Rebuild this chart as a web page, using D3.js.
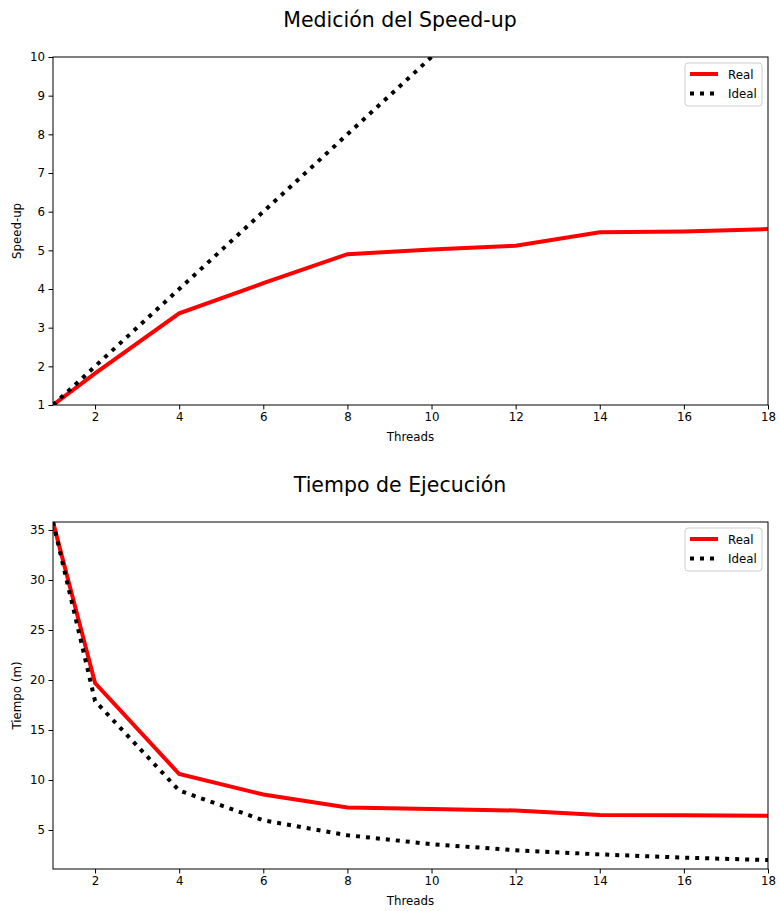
<!DOCTYPE html>
<html><head><meta charset="utf-8">
<script src="https://cdn.jsdelivr.net/npm/d3@7"></script>
<style>
body{margin:0;background:#fff;}
text{font-family:"DejaVu Sans",sans-serif;}
</style></head>
<body><svg id="c" width="780" height="911"></svg>
<script>
const threads = [1, 2, 4, 6, 8, 10, 12, 14, 16, 18];
const tiempoReal = [35.8, 19.7, 10.6, 8.55, 7.25, 7.1, 6.95, 6.5, 6.47, 6.42];
const tiempoIdeal = [35.8, 17.9, 8.95, 5.97, 4.48, 3.58, 2.98, 2.56, 2.24, 1.99];
const speedupReal = [1, 1.82, 3.37, 4.15, 4.9, 5.02, 5.12, 5.47, 5.49, 5.55];
const speedupIdeal = [1, 2, 4, 6, 8, 10, 12, 14, 16, 18];
const xTicks = [2, 4, 6, 8, 10, 12, 14, 16, 18];
const speedTicks = [1, 2, 3, 4, 5, 6, 7, 8, 9, 10];
const timeTicks = [5, 10, 15, 20, 25, 30, 35];
const seriesNames = ["Real", "Ideal"];

const svg = d3.select("#c");
svg.append("defs");

function panel(cfg){
  const {top, bottom, left, right, ydom, yticks, title, ylabel, real, ideal, id} = cfg;
  const x = d3.scaleLinear().domain([1,18]).range([left,right]);
  const y = d3.scaleLinear().domain(ydom).range([bottom,top]);
  const g = svg.append("g");
  const cp = svg.select("defs").append("clipPath").attr("id","cp"+id);
  cp.append("rect").attr("x",left).attr("y",top).attr("width",right-left).attr("height",bottom-top);
  const line = d3.line().x((d,i)=>x(threads[i])).y(d=>y(d));
  const lg = g.append("g").attr("clip-path","url(#cp"+id+")");
  lg.append("path").datum(real).attr("d",line).attr("fill","none")
    .attr("stroke","#ff0000").attr("stroke-width",4);
  lg.append("path").datum(ideal).attr("d",line).attr("fill","none")
    .attr("stroke","#000").attr("stroke-width",4).attr("stroke-dasharray","4,6");
  const xa = g.append("g").attr("transform",`translate(0,${bottom})`)
    .call(d3.axisBottom(x).tickValues(xTicks).tickSize(4.5).tickPadding(3.5).tickFormat(d3.format("d")));
  const ya = g.append("g").attr("transform",`translate(${left},0)`)
    .call(d3.axisLeft(y).tickValues(yticks).tickSize(4.5).tickPadding(3.5).tickFormat(d3.format("d")));
  [xa,ya].forEach(a=>{a.select(".domain").remove();
    a.selectAll("text").attr("font-size",11.8).attr("fill","#000").attr("font-family","DejaVu Sans");
    a.selectAll("line").attr("stroke","#000").attr("stroke-width",1);});
  g.append("rect").attr("x",left).attr("y",top).attr("width",right-left).attr("height",bottom-top)
    .attr("fill","none").attr("stroke","#000").attr("stroke-width",1);
  g.append("text").attr("x",400).attr("y",top-30).attr("text-anchor","middle")
    .attr("font-size",20.5).text(title);
  g.append("text").attr("x",(left+right)/2).attr("y",bottom+36).attr("text-anchor","middle")
    .attr("font-size",11.8).text("Threads");
  g.append("text").attr("transform",`translate(${left-32},${(top+bottom)/2}) rotate(-90)`)
    .attr("text-anchor","middle").attr("font-size",11.8).text(ylabel);
  // legend
  const lx = right-83, ly = top+6;
  const leg = g.append("g");
  leg.append("rect").attr("x",lx).attr("y",ly).attr("width",77).attr("height",43).attr("rx",3)
    .attr("fill","#fff").attr("fill-opacity",0.8).attr("stroke","#ccc").attr("stroke-width",1);
  seriesNames.forEach((n,i)=>{
    const yy = ly+11+i*19.5;
    leg.append("line").attr("x1",lx+5).attr("x2",lx+33).attr("y1",yy).attr("y2",yy)
      .attr("stroke", i===0?"#ff0000":"#000").attr("stroke-width",4)
      .attr("stroke-dasharray", i===0?null:"4,6");
    leg.append("text").attr("x",lx+43).attr("y",yy+4.5).attr("font-size",11.8).text(n);
  });
}

panel({id:1, top:57, bottom:405, left:53, right:768, ydom:[1,10], yticks:speedTicks,
  title:"Medición del Speed-up", ylabel:"Speed-up", real:speedupReal, ideal:speedupIdeal});
panel({id:2, top:522, bottom:869, left:53, right:768, ydom:[1.1,35.8], yticks:timeTicks,
  title:"Tiempo de Ejecución", ylabel:"Tiempo (m)", real:tiempoReal, ideal:tiempoIdeal});
</script></body></html>
